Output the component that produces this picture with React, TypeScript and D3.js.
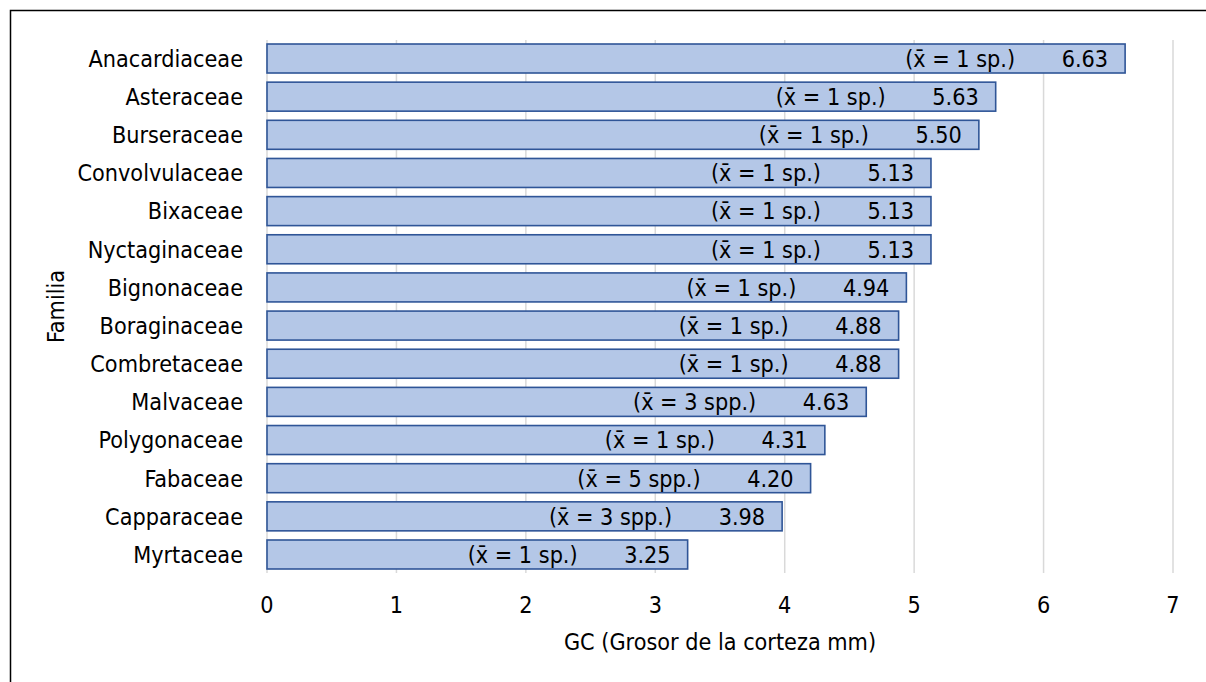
import React from "react";
import * as d3 from "d3";

const families = [
  "Anacardiaceae",
  "Asteraceae",
  "Burseraceae",
  "Convolvulaceae",
  "Bixaceae",
  "Nyctaginaceae",
  "Bignonaceae",
  "Boraginaceae",
  "Combretaceae",
  "Malvaceae",
  "Polygonaceae",
  "Fabaceae",
  "Capparaceae",
  "Myrtaceae",
];
const barkThickness = [6.63, 5.63, 5.5, 5.13, 5.13, 5.13, 4.94, 4.88, 4.88, 4.63, 4.31, 4.2, 3.98, 3.25];
const speciesCount = [1, 1, 1, 1, 1, 1, 1, 1, 1, 3, 1, 5, 3, 1];
const xTicks = [0, 1, 2, 3, 4, 5, 6, 7];

const W = 1206;
const H = 682;
const FONT = "'DejaVu Sans Condensed', 'DejaVu Sans', sans-serif";
const FS = 23.2;

export default function App() {
  const x = d3.scaleLinear().domain([0, 7]).range([267, 1173]);
  const y = d3
    .scaleBand<string>()
    .domain(families)
    .range([40, 573])
    .paddingInner(0.24)
    .paddingOuter(0.105);
  const bw = y.bandwidth();

  return (
    <svg
      width={W}
      height={H}
      style={{ position: "absolute", left: 0, top: 0, background: "#fff" }}
      fontFamily={FONT}
    >
      {/* chart frame: left and top edges */}
      <path d={`M10.5,${H} V10.5 H${W}`} fill="none" stroke="#000" strokeWidth={1.5} />

      {/* vertical gridlines */}
      {xTicks.map((t) => (
        <line key={`g${t}`} x1={x(t)} x2={x(t)} y1={40} y2={573} stroke="#d9d9d9" strokeWidth={1.5} />
      ))}

      {/* bars with labels */}
      {families.map((f, i) => {
        const v = barkThickness[i];
        const y0 = y(f)!;
        const xe = x(v);
        const cy = y0 + bw / 2;
        const note = `(x\u0304 = ${speciesCount[i]} ${speciesCount[i] > 1 ? "spp." : "sp."})`;
        return (
          <g key={f}>
            <rect
              x={x(0)}
              y={y0}
              width={xe - x(0)}
              height={bw}
              fill="#b4c7e7"
              stroke="#2f5597"
              strokeWidth={1.6}
            />
            <text x={xe - 110} y={cy} dy="0.36em" textAnchor="end" fontSize={FS} fill="#000">
              {note}
            </text>
            <text x={xe - 17} y={cy} dy="0.36em" textAnchor="end" fontSize={FS} fill="#000">
              {v.toFixed(2)}
            </text>
            <text x={243} y={cy} dy="0.36em" textAnchor="end" fontSize={FS} fill="#000">
              {f}
            </text>
          </g>
        );
      })}

      {/* x tick labels */}
      {xTicks.map((t) => (
        <text key={`t${t}`} x={x(t)} y={613} textAnchor="middle" fontSize={FS} fill="#000">
          {t}
        </text>
      ))}

      <text x={(x(0) + x(7)) / 2} y={650} textAnchor="middle" fontSize={FS} fill="#000">
        GC (Grosor de la corteza mm)
      </text>
      <text
        transform={`translate(64, ${(40 + 573) / 2}) rotate(-90)`}
        textAnchor="middle"
        fontSize={FS}
        fill="#000"
      >
        Familia
      </text>
    </svg>
  );
}
